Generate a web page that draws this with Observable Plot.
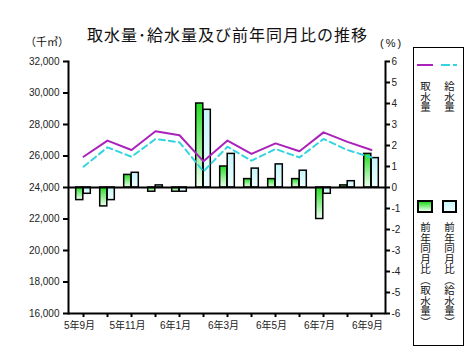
<!DOCTYPE html>
<html><head><meta charset="utf-8">
<script src="https://cdn.jsdelivr.net/npm/d3@7"></script>
<script src="https://cdn.jsdelivr.net/npm/@observablehq/plot@0.6"></script>
<style>
body{margin:0;background:#fff;}
#wrap{position:relative;width:471px;height:356px;overflow:hidden;font-family:"Liberation Sans",Arial,"Noto Sans CJK JP",sans-serif;}
.abs{position:absolute;white-space:nowrap;line-height:1;}
.jp{font-family:"Noto Sans CJK JP",sans-serif;}
.vt{position:absolute;writing-mode:vertical-rl;text-orientation:upright;font-family:"Noto Sans CJK JP",sans-serif;font-size:10.5px;line-height:11px;color:#111;}
.vt .p{text-orientation:mixed;}
</style>
</head><body>
<div id="wrap">
  <div class="abs jp" style="left:87px;top:26px;font-size:16px;letter-spacing:1px;color:#111;">取水量･給水量及び前年同月比の推移</div>
  <div class="abs jp" style="left:25px;top:36px;font-size:11px;color:#111;">（千㎥）</div>
  <div class="abs" style="left:380px;top:38px;font-size:11px;letter-spacing:2px;color:#111;">(%)</div>
  <div id="legend" style="position:absolute;left:413px;top:47px;width:51px;height:299px;border:1px solid #000;box-sizing:border-box;">
    <div style="position:absolute;left:3px;top:16px;width:16px;height:2px;background:#aa22bb;"></div>
    <div style="position:absolute;left:27px;top:16px;width:16px;height:2px;background:repeating-linear-gradient(90deg,#33d4e0 0 9px,transparent 9px 12px);"></div>
    <div class="vt" style="left:6px;top:33px;">取水量</div>
    <div class="vt" style="left:30px;top:33px;">給水量</div>
    <div style="position:absolute;left:3px;top:152px;width:16px;height:13px;border:2px solid #000;box-sizing:border-box;background:linear-gradient(#22dd22,#eaffea);"></div>
    <div style="position:absolute;left:28px;top:152px;width:15px;height:13px;border:2px solid #000;box-sizing:border-box;background:linear-gradient(#c6f6fc,#ecffff);"></div>
    <div class="vt" style="left:6px;top:174px;">前年同月比<span class="p">（</span>取水量<span class="p">）</span></div>
    <div class="vt" style="left:30px;top:174px;">前年同月比<span class="p">（</span>給水量<span class="p">）</span></div>
  </div>
  <div id="chart" style="position:absolute;left:0;top:0;"></div>
</div>
<script>
const months = ["5年9月","5年10月","5年11月","5年12月","6年1月","6年2月","6年3月","6年4月","6年5月","6年6月","6年7月","6年8月","6年9月"];
const intake = [25950,26980,26380,27570,27320,25660,26980,26130,26800,26300,27500,26900,26380];
const supply = [25320,26550,25950,27080,26870,25020,26590,25700,26440,25910,27080,26380,25910];
const intakeYoY = [-0.6,-0.9,0.6,-0.2,-0.2,4.0,1.0,0.4,0.4,0.4,-1.5,0.1,1.6];
const supplyYoY = [-0.3,-0.6,0.7,0.1,-0.2,3.7,1.6,0.9,1.1,0.8,-0.3,0.3,1.4];
const leftTicks = [16000,18000,20000,22000,24000,26000,28000,30000,32000];
const rightTicks = [-6,-5,-4,-3,-2,-1,0,1,2,3,4,5,6];

const W = 471, H = 356, mL = 68, mR = 86, mT = 61, mB = 43;
const base = 24000, perPct = 8000 / 6;
const toK = p => base + p * perPct;
const bw = (W - mL - mR) / months.length;
const barW = 7.5;

const rowsA = months.map((m, i) => ({month: m, v: toK(intakeYoY[i])}));
const rowsB = months.map((m, i) => ({month: m, v: toK(supplyYoY[i])}));

const chart = Plot.plot({
  width: W, height: H,
  marginLeft: mL, marginRight: mR, marginTop: mT, marginBottom: mB,
  style: {fontFamily: '"Liberation Sans", Arial, "Noto Sans CJK JP", sans-serif', fontSize: "10px", background: "transparent", color: "#111"},
  x: {domain: months, padding: 0, type: "band"},
  y: {domain: [16000, 32000]},
  marks: [
    Plot.barY(rowsA, {x: "month", y1: base, y2: "v", fill: "url(#gGreen)", stroke: "#000", strokeWidth: 1.5,
      insetLeft: bw / 2 - barW, insetRight: bw / 2}),
    Plot.barY(rowsB, {x: "month", y1: base, y2: "v", fill: "url(#gCyan)", stroke: "#000", strokeWidth: 1.5,
      insetLeft: bw / 2, insetRight: bw / 2 - barW}),
    Plot.ruleY([base], {stroke: "#000", strokeWidth: 2}),
    Plot.ruleY([16000], {stroke: "#000", strokeWidth: 2}),
    Plot.frame({anchor: "left", stroke: "#000", strokeWidth: 2}),
    Plot.frame({anchor: "right", stroke: "#000", strokeWidth: 2}),
    Plot.lineY(supply, {x: months, stroke: "#33d4e0", strokeWidth: 2, strokeDasharray: "6,4"}),
    Plot.lineY(intake, {x: months, stroke: "#aa22bb", strokeWidth: 2}),
    Plot.axisY(leftTicks, {anchor: "left", tickSize: 5, tickPadding: 4, strokeWidth: 2, stroke: "#000",
      tickFormat: d3.format(","), label: null, fill: "#222"}),
    Plot.axisY(rightTicks.map(toK), {anchor: "right", tickSize: 4, tickPadding: 2, strokeWidth: 2, stroke: "#000",
      tickFormat: d => String(Math.round((d - base) / perPct)), label: null, fill: "#222"}),
    Plot.axisX(months, {anchor: "bottom", tickSize: 4, strokeWidth: 2, stroke: "#000", tickFormat: () => "", label: null}),
    Plot.axisX(months.filter((d, i) => i % 2 === 0), {anchor: "bottom", tickSize: 0, tickPadding: 8, dx: -4,
      label: null, fill: "#222", fontSize: 10})
  ]
});

const svg = d3.select(chart);
const defs = svg.insert("defs", ":first-child");
const g1 = defs.append("linearGradient").attr("id", "gGreen").attr("x1", 0).attr("y1", 0).attr("x2", 0).attr("y2", 1);
g1.append("stop").attr("offset", "0%").attr("stop-color", "#22dd22");
g1.append("stop").attr("offset", "100%").attr("stop-color", "#effff0");
const g2 = defs.append("linearGradient").attr("id", "gCyan").attr("x1", 0).attr("y1", 0).attr("x2", 0).attr("y2", 1);
g2.append("stop").attr("offset", "0%").attr("stop-color", "#c6f6fc");
g2.append("stop").attr("offset", "100%").attr("stop-color", "#eeffff");

document.getElementById("chart").appendChild(chart);
</script>
</body></html>
